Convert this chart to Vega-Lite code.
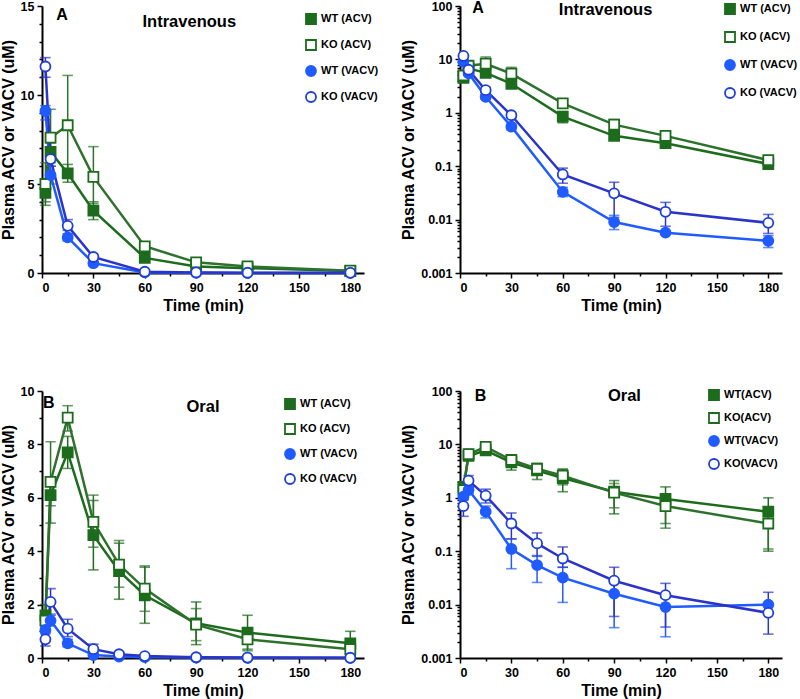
{
"$schema": "https://vega.github.io/schema/vega-lite/v6.json",
"padding": {"left": 0, "top": 0, "right": 5, "bottom": 5},
"config": {
 "view": {"stroke": null},
 "font": "Liberation Sans",
 "axis": {"grid": false, "domainColor": "black", "domainWidth": 2, "tickColor": "black", "tickWidth": 1.5, "tickSize": 5, "labelFont": "Liberation Sans", "labelFontWeight": "bold", "labelFontSize": 12.5, "labelColor": "black", "titleFont": "Liberation Sans", "titleFontWeight": "bold", "titleFontSize": 16, "titleColor": "black", "labelPadding": 3, "titlePadding": 4},
 "legend": {"labelFont": "Liberation Sans", "labelFontWeight": "bold", "labelFontSize": 11, "labelColor": "black", "symbolSize": 100, "symbolStrokeWidth": 1.8, "labelOffset": 4, "padding": 0}
},
"datasets": {
 "iv": [
  {"t": 2, "s": "WT (ACV)", "v": 4.5, "lo": 3.8, "hi": 5.2},
  {"t": 5, "s": "WT (ACV)", "v": 6.8, "lo": 6.2, "hi": 7.3},
  {"t": 15, "s": "WT (ACV)", "v": 5.6, "lo": 5.1, "hi": 6.1},
  {"t": 30, "s": "WT (ACV)", "v": 3.5, "lo": 3.0, "hi": 4.0},
  {"t": 60, "s": "WT (ACV)", "v": 0.85, "lo": 0.65, "hi": 1.05},
  {"t": 90, "s": "WT (ACV)", "v": 0.37, "lo": 0.32, "hi": 0.42},
  {"t": 120, "s": "WT (ACV)", "v": 0.27, "lo": 0.23, "hi": 0.31},
  {"t": 180, "s": "WT (ACV)", "v": 0.11, "lo": 0.1, "hi": 0.12},
  {"t": 2, "s": "KO (ACV)", "v": 5.0, "lo": 4.0, "hi": 6.2},
  {"t": 5, "s": "KO (ACV)", "v": 7.6, "lo": 6.9, "hi": 9.2},
  {"t": 15, "s": "KO (ACV)", "v": 8.3, "lo": 5.4, "hi": 11.1},
  {"t": 30, "s": "KO (ACV)", "v": 5.4, "lo": 3.9, "hi": 7.1},
  {"t": 60, "s": "KO (ACV)", "v": 1.5, "lo": 1.35, "hi": 1.65},
  {"t": 90, "s": "KO (ACV)", "v": 0.6, "lo": 0.48, "hi": 0.75},
  {"t": 120, "s": "KO (ACV)", "v": 0.37, "lo": 0.33, "hi": 0.42},
  {"t": 180, "s": "KO (ACV)", "v": 0.13, "lo": 0.12, "hi": 0.14},
  {"t": 2, "s": "WT (VACV)", "v": 9.1, "lo": 8.6, "hi": 9.4},
  {"t": 5, "s": "WT (VACV)", "v": 5.5, "lo": 5.0, "hi": 6.0},
  {"t": 15, "s": "WT (VACV)", "v": 2.0, "lo": 1.8, "hi": 2.2},
  {"t": 30, "s": "WT (VACV)", "v": 0.55, "lo": 0.48, "hi": 0.62},
  {"t": 60, "s": "WT (VACV)", "v": 0.033, "lo": 0.027, "hi": 0.04},
  {"t": 90, "s": "WT (VACV)", "v": 0.009, "lo": 0.0065, "hi": 0.012},
  {"t": 120, "s": "WT (VACV)", "v": 0.0057, "lo": null, "hi": null},
  {"t": 180, "s": "WT (VACV)", "v": 0.004, "lo": 0.003, "hi": 0.005},
  {"t": 2, "s": "KO (VACV)", "v": 11.6, "lo": 11.0, "hi": 12.1},
  {"t": 5, "s": "KO (VACV)", "v": 6.4, "lo": 6.0, "hi": 6.8},
  {"t": 15, "s": "KO (VACV)", "v": 2.65, "lo": 2.4, "hi": 3.0},
  {"t": 30, "s": "KO (VACV)", "v": 0.9, "lo": 0.82, "hi": 0.98},
  {"t": 60, "s": "KO (VACV)", "v": 0.07, "lo": 0.048, "hi": 0.092},
  {"t": 90, "s": "KO (VACV)", "v": 0.031, "lo": 0.011, "hi": 0.05},
  {"t": 120, "s": "KO (VACV)", "v": 0.014, "lo": 0.0075, "hi": 0.021},
  {"t": 180, "s": "KO (VACV)", "v": 0.0087, "lo": 0.0055, "hi": 0.0125}
 ],
 "oral": [
  {"t": 2, "s": "WT(ACV)", "v": 1.6, "lo": 1.2, "hi": 2.0},
  {"t": 5, "s": "WT(ACV)", "v": 6.1, "lo": 5.7, "hi": 6.6},
  {"t": 15, "s": "WT(ACV)", "v": 7.7, "lo": 7.1, "hi": 8.3},
  {"t": 30, "s": "WT(ACV)", "v": 4.6, "lo": 3.3, "hi": 5.9},
  {"t": 45, "s": "WT(ACV)", "v": 3.25, "lo": 2.2, "hi": 4.3},
  {"t": 60, "s": "WT(ACV)", "v": 2.35, "lo": 1.3, "hi": 3.4},
  {"t": 90, "s": "WT(ACV)", "v": 1.3, "lo": 0.5, "hi": 2.1},
  {"t": 120, "s": "WT(ACV)", "v": 0.95, "lo": 0.33, "hi": 1.6},
  {"t": 180, "s": "WT(ACV)", "v": 0.55, "lo": 0.1, "hi": 1.0},
  {"t": 2, "s": "KO(ACV)", "v": 1.4, "lo": null, "hi": null},
  {"t": 5, "s": "KO(ACV)", "v": 6.6, "lo": 5.05, "hi": 8.1},
  {"t": 15, "s": "KO(ACV)", "v": 9.0, "lo": 8.5, "hi": 9.45},
  {"t": 30, "s": "KO(ACV)", "v": 5.1, "lo": 4.15, "hi": 6.1},
  {"t": 45, "s": "KO(ACV)", "v": 3.5, "lo": 2.65, "hi": 4.4},
  {"t": 60, "s": "KO(ACV)", "v": 2.6, "lo": 1.75, "hi": 3.45},
  {"t": 90, "s": "KO(ACV)", "v": 1.25, "lo": 0.65, "hi": 1.85},
  {"t": 120, "s": "KO(ACV)", "v": 0.7, "lo": 0.27, "hi": 1.05},
  {"t": 180, "s": "KO(ACV)", "v": 0.33, "lo": 0.11, "hi": 0.55},
  {"t": 2, "s": "WT(VACV)", "v": 1.05, "lo": 0.9, "hi": 1.2},
  {"t": 5, "s": "WT(VACV)", "v": 1.4, "lo": 1.2, "hi": 1.65},
  {"t": 15, "s": "WT(VACV)", "v": 0.55, "lo": 0.42, "hi": 0.7},
  {"t": 30, "s": "WT(VACV)", "v": 0.11, "lo": 0.047, "hi": 0.17},
  {"t": 45, "s": "WT(VACV)", "v": 0.055, "lo": 0.026, "hi": 0.083},
  {"t": 60, "s": "WT(VACV)", "v": 0.032, "lo": 0.011, "hi": 0.05},
  {"t": 90, "s": "WT(VACV)", "v": 0.016, "lo": 0.0037, "hi": 0.028},
  {"t": 120, "s": "WT(VACV)", "v": 0.009, "lo": 0.0025, "hi": 0.014},
  {"t": 180, "s": "WT(VACV)", "v": 0.01, "lo": null, "hi": null},
  {"t": 2, "s": "KO(VACV)", "v": 0.7, "lo": 0.45, "hi": 0.95},
  {"t": 5, "s": "KO(VACV)", "v": 2.1, "lo": 1.6, "hi": 2.6},
  {"t": 15, "s": "KO(VACV)", "v": 1.1, "lo": 0.8, "hi": 1.45},
  {"t": 30, "s": "KO(VACV)", "v": 0.33, "lo": 0.17, "hi": 0.52},
  {"t": 45, "s": "KO(VACV)", "v": 0.14, "lo": 0.08, "hi": 0.22},
  {"t": 60, "s": "KO(VACV)", "v": 0.073, "lo": 0.05, "hi": 0.12},
  {"t": 90, "s": "KO(VACV)", "v": 0.028, "lo": 0.006, "hi": 0.05},
  {"t": 120, "s": "KO(VACV)", "v": 0.015, "lo": 0.0038, "hi": 0.025},
  {"t": 180, "s": "KO(VACV)", "v": 0.007, "lo": 0.0028, "hi": 0.017}
 ]
},
"columns": 2,
"bounds": "flush",
"spacing": {"row": 118, "column": 96},
"resolve": {"scale": {"color": "independent", "fill": "independent", "shape": "independent", "stroke": "independent"}, "legend": {"color": "independent", "fill": "independent", "shape": "independent", "stroke": "independent"}},
"concat": [
 {
  "width": 322, "height": 267,
  "data": {"name": "iv"},
  "encoding": {
   "x": {"field": "t", "type": "quantitative", "scale": {"domain": [0, 188], "nice": false}, "axis": {"title": "Time (min)", "values": [0,15,30,45,60,75,90,105,120,135,150,165,180], "labelExpr": "datum.value % 30 == 0 ? datum.label : ''", "tickSize": {"condition": {"test": "datum.value % 30 == 0", "value": 5}, "value": 3}}}
  },
  "layer": [
   {"mark": {"type": "rule", "strokeWidth": 1.5}, "encoding": {"y": {"field": "lo", "type": "quantitative", "scale": {"domain": [0, 15], "nice": false}, "axis": {"title": "Plasma ACV or VACV (uM)", "values": [0,1,2,3,4,5,6,7,8,9,10,11,12,13,14,15], "labelExpr": "datum.value % 5 == 0 ? datum.label : ''", "tickSize": {"condition": {"test": "datum.value % 5 == 0", "value": 5}, "value": 3}}}, "y2": {"field": "hi"}, "stroke": {"field": "s", "type": "nominal", "scale": {"domain": ["KO (VACV)","WT (VACV)","KO (ACV)","WT (ACV)"], "range": ["#2b34c9","#1f5bff","#2d712d","#1d6b1d"]}, "legend": null}}},
   {"mark": {"type": "tick", "orient": "horizontal", "filled": false, "size": 9, "thickness": 0.1, "strokeWidth": 1.5}, "encoding": {"y": {"field": "hi", "type": "quantitative", "scale": {"domain": [0, 15], "nice": false}, "axis": {"title": "Plasma ACV or VACV (uM)", "values": [0,1,2,3,4,5,6,7,8,9,10,11,12,13,14,15], "labelExpr": "datum.value % 5 == 0 ? datum.label : ''", "tickSize": {"condition": {"test": "datum.value % 5 == 0", "value": 5}, "value": 3}}}, "stroke": {"field": "s", "type": "nominal", "scale": {"domain": ["KO (VACV)","WT (VACV)","KO (ACV)","WT (ACV)"], "range": ["#2b34c9","#1f5bff","#2d712d","#1d6b1d"]}, "legend": null}}},
   {"mark": {"type": "tick", "orient": "horizontal", "filled": false, "size": 9, "thickness": 0.1, "strokeWidth": 1.5}, "encoding": {"y": {"field": "lo", "type": "quantitative", "scale": {"domain": [0, 15], "nice": false}, "axis": {"title": "Plasma ACV or VACV (uM)", "values": [0,1,2,3,4,5,6,7,8,9,10,11,12,13,14,15], "labelExpr": "datum.value % 5 == 0 ? datum.label : ''", "tickSize": {"condition": {"test": "datum.value % 5 == 0", "value": 5}, "value": 3}}}, "stroke": {"field": "s", "type": "nominal", "scale": {"domain": ["KO (VACV)","WT (VACV)","KO (ACV)","WT (ACV)"], "range": ["#2b34c9","#1f5bff","#2d712d","#1d6b1d"]}, "legend": null}}},
   {"mark": {"type": "line", "strokeWidth": 2.5}, "encoding": {"y": {"field": "v", "type": "quantitative", "scale": {"domain": [0, 15], "nice": false}, "axis": {"title": "Plasma ACV or VACV (uM)", "values": [0,1,2,3,4,5,6,7,8,9,10,11,12,13,14,15], "labelExpr": "datum.value % 5 == 0 ? datum.label : ''", "tickSize": {"condition": {"test": "datum.value % 5 == 0", "value": 5}, "value": 3}}}, "stroke": {"field": "s", "type": "nominal", "scale": {"domain": ["KO (VACV)","WT (VACV)","KO (ACV)","WT (ACV)"], "range": ["#2b34c9","#1f5bff","#2d712d","#1d6b1d"]}, "legend": null}}},
   {"mark": {"type": "point", "opacity": 1, "size": 100, "strokeWidth": 1.8},
    "encoding": {
     "y": {"field": "v", "type": "quantitative", "scale": {"domain": [0, 15], "nice": false}, "axis": {"title": "Plasma ACV or VACV (uM)", "values": [0,1,2,3,4,5,6,7,8,9,10,11,12,13,14,15], "labelExpr": "datum.value % 5 == 0 ? datum.label : ''", "tickSize": {"condition": {"test": "datum.value % 5 == 0", "value": 5}, "value": 3}}},
     "color": {"field": "s", "type": "nominal", "scale": {"domain": ["WT (ACV)","KO (ACV)","WT (VACV)","KO (VACV)"], "range": ["#1d6b1d","#1d6b1d","#1f5bff","#1f3fd9"]}, "legend": {"title": null, "orient": "none", "legendX": 263, "legendY": 7, "rowPadding": 8}},
     "fill": {"field": "s", "type": "nominal", "scale": {"domain": ["WT (ACV)","KO (ACV)","WT (VACV)","KO (VACV)"], "range": ["#1d6b1d","white","#1f5bff","white"]}, "legend": {"title": null, "orient": "none", "legendX": 263, "legendY": 7, "rowPadding": 8}},
     "shape": {"field": "s", "type": "nominal", "scale": {"domain": ["WT (ACV)","KO (ACV)","WT (VACV)","KO (VACV)"], "range": ["square","square","circle","circle"]}, "legend": {"title": null, "orient": "none", "legendX": 263, "legendY": 7, "rowPadding": 8}}
    }},
   {"transform": [{"filter": "datum.t == 2 && datum.s == 'WT (ACV)'"}], "mark": {"type": "text", "fontSize": 16, "fontWeight": "bold", "baseline": "middle", "align": "center", "color": "black"},
    "encoding": {"x": {"datum": 11.7, "type": "quantitative"}, "y": {"datum": 14.5, "type": "quantitative", "scale": {"domain": [0, 15], "nice": false}, "axis": {"title": "Plasma ACV or VACV (uM)", "values": [0,1,2,3,4,5,6,7,8,9,10,11,12,13,14,15], "labelExpr": "datum.value % 5 == 0 ? datum.label : ''", "tickSize": {"condition": {"test": "datum.value % 5 == 0", "value": 5}, "value": 3}}}, "text": {"value": "A"}}},
   {"transform": [{"filter": "datum.t == 2 && datum.s == 'WT (ACV)'"}], "mark": {"type": "text", "fontSize": 16.5, "fontWeight": "bold", "baseline": "middle", "align": "center", "color": "black"},
    "encoding": {"x": {"datum": 86, "type": "quantitative"}, "y": {"datum": 14.1, "type": "quantitative", "scale": {"domain": [0, 15], "nice": false}, "axis": {"title": "Plasma ACV or VACV (uM)", "values": [0,1,2,3,4,5,6,7,8,9,10,11,12,13,14,15], "labelExpr": "datum.value % 5 == 0 ? datum.label : ''", "tickSize": {"condition": {"test": "datum.value % 5 == 0", "value": 5}, "value": 3}}}, "text": {"value": "Intravenous"}}}
  ]
 },
 {
  "width": 322, "height": 267,
  "data": {"name": "iv"},
  "encoding": {
   "x": {"field": "t", "type": "quantitative", "scale": {"domain": [0, 188], "nice": false}, "axis": {"title": "Time (min)", "values": [0,15,30,45,60,75,90,105,120,135,150,165,180], "labelExpr": "datum.value % 30 == 0 ? datum.label : ''", "tickSize": {"condition": {"test": "datum.value % 30 == 0", "value": 5}, "value": 3}}}
  },
  "layer": [
   {"mark": {"type": "rule", "strokeWidth": 1.5}, "encoding": {"y": {"field": "lo", "type": "quantitative", "scale": {"type": "log", "domain": [0.001, 100], "nice": false}, "axis": {"title": "Plasma ACV or VACV (uM)", "format": "~g", "values": [0.001,0.002,0.003,0.004,0.005,0.006,0.007,0.008,0.009,0.01,0.02,0.03,0.04,0.05,0.06,0.07,0.08,0.09,0.1,0.2,0.3,0.4,0.5,0.6,0.7,0.8,0.9,1,2,3,4,5,6,7,8,9,10,20,30,40,50,60,70,80,90,100], "labelExpr": "abs(log(datum.value)/LN10 - round(log(datum.value)/LN10)) < 0.001 ? datum.label : ''", "tickSize": {"condition": {"test": "abs(log(datum.value)/LN10 - round(log(datum.value)/LN10)) < 0.001", "value": 5}, "value": 3}}}, "y2": {"field": "hi"}, "stroke": {"field": "s", "type": "nominal", "scale": {"domain": ["KO (VACV)","WT (VACV)","KO (ACV)","WT (ACV)"], "range": ["#2b34c9","#1f5bff","#2d712d","#1d6b1d"]}, "legend": null}}},
   {"mark": {"type": "tick", "orient": "horizontal", "filled": false, "size": 9, "thickness": 0.1, "strokeWidth": 1.5}, "encoding": {"y": {"field": "hi", "type": "quantitative", "scale": {"type": "log", "domain": [0.001, 100], "nice": false}, "axis": {"title": "Plasma ACV or VACV (uM)", "format": "~g", "values": [0.001,0.002,0.003,0.004,0.005,0.006,0.007,0.008,0.009,0.01,0.02,0.03,0.04,0.05,0.06,0.07,0.08,0.09,0.1,0.2,0.3,0.4,0.5,0.6,0.7,0.8,0.9,1,2,3,4,5,6,7,8,9,10,20,30,40,50,60,70,80,90,100], "labelExpr": "abs(log(datum.value)/LN10 - round(log(datum.value)/LN10)) < 0.001 ? datum.label : ''", "tickSize": {"condition": {"test": "abs(log(datum.value)/LN10 - round(log(datum.value)/LN10)) < 0.001", "value": 5}, "value": 3}}}, "stroke": {"field": "s", "type": "nominal", "scale": {"domain": ["KO (VACV)","WT (VACV)","KO (ACV)","WT (ACV)"], "range": ["#2b34c9","#1f5bff","#2d712d","#1d6b1d"]}, "legend": null}}},
   {"mark": {"type": "tick", "orient": "horizontal", "filled": false, "size": 9, "thickness": 0.1, "strokeWidth": 1.5}, "encoding": {"y": {"field": "lo", "type": "quantitative", "scale": {"type": "log", "domain": [0.001, 100], "nice": false}, "axis": {"title": "Plasma ACV or VACV (uM)", "format": "~g", "values": [0.001,0.002,0.003,0.004,0.005,0.006,0.007,0.008,0.009,0.01,0.02,0.03,0.04,0.05,0.06,0.07,0.08,0.09,0.1,0.2,0.3,0.4,0.5,0.6,0.7,0.8,0.9,1,2,3,4,5,6,7,8,9,10,20,30,40,50,60,70,80,90,100], "labelExpr": "abs(log(datum.value)/LN10 - round(log(datum.value)/LN10)) < 0.001 ? datum.label : ''", "tickSize": {"condition": {"test": "abs(log(datum.value)/LN10 - round(log(datum.value)/LN10)) < 0.001", "value": 5}, "value": 3}}}, "stroke": {"field": "s", "type": "nominal", "scale": {"domain": ["KO (VACV)","WT (VACV)","KO (ACV)","WT (ACV)"], "range": ["#2b34c9","#1f5bff","#2d712d","#1d6b1d"]}, "legend": null}}},
   {"mark": {"type": "line", "strokeWidth": 2.5}, "encoding": {"y": {"field": "v", "type": "quantitative", "scale": {"type": "log", "domain": [0.001, 100], "nice": false}, "axis": {"title": "Plasma ACV or VACV (uM)", "format": "~g", "values": [0.001,0.002,0.003,0.004,0.005,0.006,0.007,0.008,0.009,0.01,0.02,0.03,0.04,0.05,0.06,0.07,0.08,0.09,0.1,0.2,0.3,0.4,0.5,0.6,0.7,0.8,0.9,1,2,3,4,5,6,7,8,9,10,20,30,40,50,60,70,80,90,100], "labelExpr": "abs(log(datum.value)/LN10 - round(log(datum.value)/LN10)) < 0.001 ? datum.label : ''", "tickSize": {"condition": {"test": "abs(log(datum.value)/LN10 - round(log(datum.value)/LN10)) < 0.001", "value": 5}, "value": 3}}}, "stroke": {"field": "s", "type": "nominal", "scale": {"domain": ["KO (VACV)","WT (VACV)","KO (ACV)","WT (ACV)"], "range": ["#2b34c9","#1f5bff","#2d712d","#1d6b1d"]}, "legend": null}}},
   {"mark": {"type": "point", "opacity": 1, "size": 100, "strokeWidth": 1.8},
    "encoding": {
     "y": {"field": "v", "type": "quantitative", "scale": {"type": "log", "domain": [0.001, 100], "nice": false}, "axis": {"title": "Plasma ACV or VACV (uM)", "format": "~g", "values": [0.001,0.002,0.003,0.004,0.005,0.006,0.007,0.008,0.009,0.01,0.02,0.03,0.04,0.05,0.06,0.07,0.08,0.09,0.1,0.2,0.3,0.4,0.5,0.6,0.7,0.8,0.9,1,2,3,4,5,6,7,8,9,10,20,30,40,50,60,70,80,90,100], "labelExpr": "abs(log(datum.value)/LN10 - round(log(datum.value)/LN10)) < 0.001 ? datum.label : ''", "tickSize": {"condition": {"test": "abs(log(datum.value)/LN10 - round(log(datum.value)/LN10)) < 0.001", "value": 5}, "value": 3}}},
     "color": {"field": "s", "type": "nominal", "scale": {"domain": ["WT (ACV)","KO (ACV)","WT (VACV)","KO (VACV)"], "range": ["#1d6b1d","#1d6b1d","#1f5bff","#1f3fd9"]}, "legend": {"title": null, "orient": "none", "legendX": 264, "legendY": -3, "rowPadding": 10}},
     "fill": {"field": "s", "type": "nominal", "scale": {"domain": ["WT (ACV)","KO (ACV)","WT (VACV)","KO (VACV)"], "range": ["#1d6b1d","white","#1f5bff","white"]}, "legend": {"title": null, "orient": "none", "legendX": 264, "legendY": -3, "rowPadding": 10}},
     "shape": {"field": "s", "type": "nominal", "scale": {"domain": ["WT (ACV)","KO (ACV)","WT (VACV)","KO (VACV)"], "range": ["square","square","circle","circle"]}, "legend": {"title": null, "orient": "none", "legendX": 264, "legendY": -3, "rowPadding": 10}}
    }},
   {"transform": [{"filter": "datum.t == 2 && datum.s == 'WT (ACV)'"}], "mark": {"type": "text", "fontSize": 16, "fontWeight": "bold", "baseline": "middle", "align": "center", "color": "black"},
    "encoding": {"x": {"datum": 10.5, "type": "quantitative"}, "y": {"datum": 91, "type": "quantitative", "scale": {"type": "log", "domain": [0.001, 100], "nice": false}, "axis": {"title": "Plasma ACV or VACV (uM)", "format": "~g", "values": [0.001,0.002,0.003,0.004,0.005,0.006,0.007,0.008,0.009,0.01,0.02,0.03,0.04,0.05,0.06,0.07,0.08,0.09,0.1,0.2,0.3,0.4,0.5,0.6,0.7,0.8,0.9,1,2,3,4,5,6,7,8,9,10,20,30,40,50,60,70,80,90,100], "labelExpr": "abs(log(datum.value)/LN10 - round(log(datum.value)/LN10)) < 0.001 ? datum.label : ''", "tickSize": {"condition": {"test": "abs(log(datum.value)/LN10 - round(log(datum.value)/LN10)) < 0.001", "value": 5}, "value": 3}}}, "text": {"value": "A"}}},
   {"transform": [{"filter": "datum.t == 2 && datum.s == 'WT (ACV)'"}], "mark": {"type": "text", "fontSize": 16.5, "fontWeight": "bold", "baseline": "middle", "align": "center", "color": "black"},
    "encoding": {"x": {"datum": 85, "type": "quantitative"}, "y": {"datum": 85, "type": "quantitative", "scale": {"type": "log", "domain": [0.001, 100], "nice": false}, "axis": {"title": "Plasma ACV or VACV (uM)", "format": "~g", "values": [0.001,0.002,0.003,0.004,0.005,0.006,0.007,0.008,0.009,0.01,0.02,0.03,0.04,0.05,0.06,0.07,0.08,0.09,0.1,0.2,0.3,0.4,0.5,0.6,0.7,0.8,0.9,1,2,3,4,5,6,7,8,9,10,20,30,40,50,60,70,80,90,100], "labelExpr": "abs(log(datum.value)/LN10 - round(log(datum.value)/LN10)) < 0.001 ? datum.label : ''", "tickSize": {"condition": {"test": "abs(log(datum.value)/LN10 - round(log(datum.value)/LN10)) < 0.001", "value": 5}, "value": 3}}}, "text": {"value": "Intravenous"}}}
  ]
 },
 {
  "width": 322, "height": 267,
  "data": {"name": "oral"},
  "encoding": {
   "x": {"field": "t", "type": "quantitative", "scale": {"domain": [0, 188], "nice": false}, "axis": {"title": "Time (min)", "values": [0,15,30,45,60,75,90,105,120,135,150,165,180], "labelExpr": "datum.value % 30 == 0 ? datum.label : ''", "tickSize": {"condition": {"test": "datum.value % 30 == 0", "value": 5}, "value": 3}}}
  },
  "layer": [
   {"mark": {"type": "rule", "strokeWidth": 1.5}, "encoding": {"y": {"field": "lo", "type": "quantitative", "scale": {"domain": [0, 10], "nice": false}, "axis": {"title": "Plasma ACV or VACV (uM)", "values": [0,1,2,3,4,5,6,7,8,9,10], "labelExpr": "datum.value % 2 == 0 ? datum.label : ''", "tickSize": {"condition": {"test": "datum.value % 2 == 0", "value": 5}, "value": 3}}}, "y2": {"field": "hi"}, "stroke": {"field": "s", "type": "nominal", "scale": {"domain": ["KO(VACV)","WT(VACV)","KO(ACV)","WT(ACV)"], "range": ["#2b34c9","#1f5bff","#2d712d","#1d6b1d"]}, "legend": null}}},
   {"mark": {"type": "tick", "orient": "horizontal", "filled": false, "size": 9, "thickness": 0.1, "strokeWidth": 1.5}, "encoding": {"y": {"field": "hi", "type": "quantitative", "scale": {"domain": [0, 10], "nice": false}, "axis": {"title": "Plasma ACV or VACV (uM)", "values": [0,1,2,3,4,5,6,7,8,9,10], "labelExpr": "datum.value % 2 == 0 ? datum.label : ''", "tickSize": {"condition": {"test": "datum.value % 2 == 0", "value": 5}, "value": 3}}}, "stroke": {"field": "s", "type": "nominal", "scale": {"domain": ["KO(VACV)","WT(VACV)","KO(ACV)","WT(ACV)"], "range": ["#2b34c9","#1f5bff","#2d712d","#1d6b1d"]}, "legend": null}}},
   {"mark": {"type": "tick", "orient": "horizontal", "filled": false, "size": 9, "thickness": 0.1, "strokeWidth": 1.5}, "encoding": {"y": {"field": "lo", "type": "quantitative", "scale": {"domain": [0, 10], "nice": false}, "axis": {"title": "Plasma ACV or VACV (uM)", "values": [0,1,2,3,4,5,6,7,8,9,10], "labelExpr": "datum.value % 2 == 0 ? datum.label : ''", "tickSize": {"condition": {"test": "datum.value % 2 == 0", "value": 5}, "value": 3}}}, "stroke": {"field": "s", "type": "nominal", "scale": {"domain": ["KO(VACV)","WT(VACV)","KO(ACV)","WT(ACV)"], "range": ["#2b34c9","#1f5bff","#2d712d","#1d6b1d"]}, "legend": null}}},
   {"mark": {"type": "line", "strokeWidth": 2.5}, "encoding": {"y": {"field": "v", "type": "quantitative", "scale": {"domain": [0, 10], "nice": false}, "axis": {"title": "Plasma ACV or VACV (uM)", "values": [0,1,2,3,4,5,6,7,8,9,10], "labelExpr": "datum.value % 2 == 0 ? datum.label : ''", "tickSize": {"condition": {"test": "datum.value % 2 == 0", "value": 5}, "value": 3}}}, "stroke": {"field": "s", "type": "nominal", "scale": {"domain": ["KO(VACV)","WT(VACV)","KO(ACV)","WT(ACV)"], "range": ["#2b34c9","#1f5bff","#2d712d","#1d6b1d"]}, "legend": null}}},
   {"mark": {"type": "point", "opacity": 1, "size": 100, "strokeWidth": 1.8},
    "encoding": {
     "y": {"field": "v", "type": "quantitative", "scale": {"domain": [0, 10], "nice": false}, "axis": {"title": "Plasma ACV or VACV (uM)", "values": [0,1,2,3,4,5,6,7,8,9,10], "labelExpr": "datum.value % 2 == 0 ? datum.label : ''", "tickSize": {"condition": {"test": "datum.value % 2 == 0", "value": 5}, "value": 3}}},
     "color": {"field": "s", "type": "nominal", "scale": {"domain": ["WT(ACV)","KO(ACV)","WT(VACV)","KO(VACV)"], "range": ["#1d6b1d","#1d6b1d","#1f5bff","#1f3fd9"]}, "legend": {"title": null, "orient": "none", "legendX": 242, "legendY": 7, "rowPadding": 7, "labelExpr": "replace(datum.label, '(', ' (')"}},
     "fill": {"field": "s", "type": "nominal", "scale": {"domain": ["WT(ACV)","KO(ACV)","WT(VACV)","KO(VACV)"], "range": ["#1d6b1d","white","#1f5bff","white"]}, "legend": {"title": null, "orient": "none", "legendX": 242, "legendY": 7, "rowPadding": 7, "labelExpr": "replace(datum.label, '(', ' (')"}},
     "shape": {"field": "s", "type": "nominal", "scale": {"domain": ["WT(ACV)","KO(ACV)","WT(VACV)","KO(VACV)"], "range": ["square","square","circle","circle"]}, "legend": {"title": null, "orient": "none", "legendX": 242, "legendY": 7, "rowPadding": 7, "labelExpr": "replace(datum.label, '(', ' (')"}}
    }},
   {"transform": [{"filter": "datum.t == 2 && datum.s == 'WT(ACV)'"}], "mark": {"type": "text", "fontSize": 16, "fontWeight": "bold", "baseline": "middle", "align": "center", "color": "black"},
    "encoding": {"x": {"datum": 4, "type": "quantitative"}, "y": {"datum": 9.55, "type": "quantitative", "scale": {"domain": [0, 10], "nice": false}, "axis": {"title": "Plasma ACV or VACV (uM)", "values": [0,1,2,3,4,5,6,7,8,9,10], "labelExpr": "datum.value % 2 == 0 ? datum.label : ''", "tickSize": {"condition": {"test": "datum.value % 2 == 0", "value": 5}, "value": 3}}}, "text": {"value": "B"}}},
   {"transform": [{"filter": "datum.t == 2 && datum.s == 'WT(ACV)'"}], "mark": {"type": "text", "fontSize": 16.5, "fontWeight": "bold", "baseline": "middle", "align": "center", "color": "black"},
    "encoding": {"x": {"datum": 94, "type": "quantitative"}, "y": {"datum": 9.4, "type": "quantitative", "scale": {"domain": [0, 10], "nice": false}, "axis": {"title": "Plasma ACV or VACV (uM)", "values": [0,1,2,3,4,5,6,7,8,9,10], "labelExpr": "datum.value % 2 == 0 ? datum.label : ''", "tickSize": {"condition": {"test": "datum.value % 2 == 0", "value": 5}, "value": 3}}}, "text": {"value": "Oral"}}}
  ]
 },
 {
  "width": 322, "height": 267,
  "data": {"name": "oral"},
  "encoding": {
   "x": {"field": "t", "type": "quantitative", "scale": {"domain": [0, 188], "nice": false}, "axis": {"title": "Time (min)", "values": [0,15,30,45,60,75,90,105,120,135,150,165,180], "labelExpr": "datum.value % 30 == 0 ? datum.label : ''", "tickSize": {"condition": {"test": "datum.value % 30 == 0", "value": 5}, "value": 3}}}
  },
  "layer": [
   {"mark": {"type": "rule", "strokeWidth": 1.5}, "encoding": {"y": {"field": "lo", "type": "quantitative", "scale": {"type": "log", "domain": [0.001, 100], "nice": false}, "axis": {"title": "Plasma ACV or VACV (uM)", "format": "~g", "values": [0.001,0.002,0.003,0.004,0.005,0.006,0.007,0.008,0.009,0.01,0.02,0.03,0.04,0.05,0.06,0.07,0.08,0.09,0.1,0.2,0.3,0.4,0.5,0.6,0.7,0.8,0.9,1,2,3,4,5,6,7,8,9,10,20,30,40,50,60,70,80,90,100], "labelExpr": "abs(log(datum.value)/LN10 - round(log(datum.value)/LN10)) < 0.001 ? datum.label : ''", "tickSize": {"condition": {"test": "abs(log(datum.value)/LN10 - round(log(datum.value)/LN10)) < 0.001", "value": 5}, "value": 3}}}, "y2": {"field": "hi"}, "stroke": {"field": "s", "type": "nominal", "scale": {"domain": ["KO(VACV)","WT(VACV)","KO(ACV)","WT(ACV)"], "range": ["#2b34c9","#1f5bff","#2d712d","#1d6b1d"]}, "legend": null}}},
   {"mark": {"type": "tick", "orient": "horizontal", "filled": false, "size": 9, "thickness": 0.1, "strokeWidth": 1.5}, "encoding": {"y": {"field": "hi", "type": "quantitative", "scale": {"type": "log", "domain": [0.001, 100], "nice": false}, "axis": {"title": "Plasma ACV or VACV (uM)", "format": "~g", "values": [0.001,0.002,0.003,0.004,0.005,0.006,0.007,0.008,0.009,0.01,0.02,0.03,0.04,0.05,0.06,0.07,0.08,0.09,0.1,0.2,0.3,0.4,0.5,0.6,0.7,0.8,0.9,1,2,3,4,5,6,7,8,9,10,20,30,40,50,60,70,80,90,100], "labelExpr": "abs(log(datum.value)/LN10 - round(log(datum.value)/LN10)) < 0.001 ? datum.label : ''", "tickSize": {"condition": {"test": "abs(log(datum.value)/LN10 - round(log(datum.value)/LN10)) < 0.001", "value": 5}, "value": 3}}}, "stroke": {"field": "s", "type": "nominal", "scale": {"domain": ["KO(VACV)","WT(VACV)","KO(ACV)","WT(ACV)"], "range": ["#2b34c9","#1f5bff","#2d712d","#1d6b1d"]}, "legend": null}}},
   {"mark": {"type": "tick", "orient": "horizontal", "filled": false, "size": 9, "thickness": 0.1, "strokeWidth": 1.5}, "encoding": {"y": {"field": "lo", "type": "quantitative", "scale": {"type": "log", "domain": [0.001, 100], "nice": false}, "axis": {"title": "Plasma ACV or VACV (uM)", "format": "~g", "values": [0.001,0.002,0.003,0.004,0.005,0.006,0.007,0.008,0.009,0.01,0.02,0.03,0.04,0.05,0.06,0.07,0.08,0.09,0.1,0.2,0.3,0.4,0.5,0.6,0.7,0.8,0.9,1,2,3,4,5,6,7,8,9,10,20,30,40,50,60,70,80,90,100], "labelExpr": "abs(log(datum.value)/LN10 - round(log(datum.value)/LN10)) < 0.001 ? datum.label : ''", "tickSize": {"condition": {"test": "abs(log(datum.value)/LN10 - round(log(datum.value)/LN10)) < 0.001", "value": 5}, "value": 3}}}, "stroke": {"field": "s", "type": "nominal", "scale": {"domain": ["KO(VACV)","WT(VACV)","KO(ACV)","WT(ACV)"], "range": ["#2b34c9","#1f5bff","#2d712d","#1d6b1d"]}, "legend": null}}},
   {"mark": {"type": "line", "strokeWidth": 2.5}, "encoding": {"y": {"field": "v", "type": "quantitative", "scale": {"type": "log", "domain": [0.001, 100], "nice": false}, "axis": {"title": "Plasma ACV or VACV (uM)", "format": "~g", "values": [0.001,0.002,0.003,0.004,0.005,0.006,0.007,0.008,0.009,0.01,0.02,0.03,0.04,0.05,0.06,0.07,0.08,0.09,0.1,0.2,0.3,0.4,0.5,0.6,0.7,0.8,0.9,1,2,3,4,5,6,7,8,9,10,20,30,40,50,60,70,80,90,100], "labelExpr": "abs(log(datum.value)/LN10 - round(log(datum.value)/LN10)) < 0.001 ? datum.label : ''", "tickSize": {"condition": {"test": "abs(log(datum.value)/LN10 - round(log(datum.value)/LN10)) < 0.001", "value": 5}, "value": 3}}}, "stroke": {"field": "s", "type": "nominal", "scale": {"domain": ["KO(VACV)","WT(VACV)","KO(ACV)","WT(ACV)"], "range": ["#2b34c9","#1f5bff","#2d712d","#1d6b1d"]}, "legend": null}}},
   {"mark": {"type": "point", "opacity": 1, "size": 100, "strokeWidth": 1.8},
    "encoding": {
     "y": {"field": "v", "type": "quantitative", "scale": {"type": "log", "domain": [0.001, 100], "nice": false}, "axis": {"title": "Plasma ACV or VACV (uM)", "format": "~g", "values": [0.001,0.002,0.003,0.004,0.005,0.006,0.007,0.008,0.009,0.01,0.02,0.03,0.04,0.05,0.06,0.07,0.08,0.09,0.1,0.2,0.3,0.4,0.5,0.6,0.7,0.8,0.9,1,2,3,4,5,6,7,8,9,10,20,30,40,50,60,70,80,90,100], "labelExpr": "abs(log(datum.value)/LN10 - round(log(datum.value)/LN10)) < 0.001 ? datum.label : ''", "tickSize": {"condition": {"test": "abs(log(datum.value)/LN10 - round(log(datum.value)/LN10)) < 0.001", "value": 5}, "value": 3}}},
     "color": {"field": "s", "type": "nominal", "scale": {"domain": ["WT(ACV)","KO(ACV)","WT(VACV)","KO(VACV)"], "range": ["#1d6b1d","#1d6b1d","#1f5bff","#1f3fd9"]}, "legend": {"title": null, "orient": "none", "legendX": 248, "legendY": -2, "rowPadding": 5}},
     "fill": {"field": "s", "type": "nominal", "scale": {"domain": ["WT(ACV)","KO(ACV)","WT(VACV)","KO(VACV)"], "range": ["#1d6b1d","white","#1f5bff","white"]}, "legend": {"title": null, "orient": "none", "legendX": 248, "legendY": -2, "rowPadding": 5}},
     "shape": {"field": "s", "type": "nominal", "scale": {"domain": ["WT(ACV)","KO(ACV)","WT(VACV)","KO(VACV)"], "range": ["square","square","circle","circle"]}, "legend": {"title": null, "orient": "none", "legendX": 248, "legendY": -2, "rowPadding": 5}}
    }},
   {"transform": [{"filter": "datum.t == 2 && datum.s == 'WT(ACV)'"}], "mark": {"type": "text", "fontSize": 16, "fontWeight": "bold", "baseline": "middle", "align": "center", "color": "black"},
    "encoding": {"x": {"datum": 12, "type": "quantitative"}, "y": {"datum": 82, "type": "quantitative", "scale": {"type": "log", "domain": [0.001, 100], "nice": false}, "axis": {"title": "Plasma ACV or VACV (uM)", "format": "~g", "values": [0.001,0.002,0.003,0.004,0.005,0.006,0.007,0.008,0.009,0.01,0.02,0.03,0.04,0.05,0.06,0.07,0.08,0.09,0.1,0.2,0.3,0.4,0.5,0.6,0.7,0.8,0.9,1,2,3,4,5,6,7,8,9,10,20,30,40,50,60,70,80,90,100], "labelExpr": "abs(log(datum.value)/LN10 - round(log(datum.value)/LN10)) < 0.001 ? datum.label : ''", "tickSize": {"condition": {"test": "abs(log(datum.value)/LN10 - round(log(datum.value)/LN10)) < 0.001", "value": 5}, "value": 3}}}, "text": {"value": "B"}}},
   {"transform": [{"filter": "datum.t == 2 && datum.s == 'WT(ACV)'"}], "mark": {"type": "text", "fontSize": 16.5, "fontWeight": "bold", "baseline": "middle", "align": "center", "color": "black"},
    "encoding": {"x": {"datum": 96, "type": "quantitative"}, "y": {"datum": 82, "type": "quantitative", "scale": {"type": "log", "domain": [0.001, 100], "nice": false}, "axis": {"title": "Plasma ACV or VACV (uM)", "format": "~g", "values": [0.001,0.002,0.003,0.004,0.005,0.006,0.007,0.008,0.009,0.01,0.02,0.03,0.04,0.05,0.06,0.07,0.08,0.09,0.1,0.2,0.3,0.4,0.5,0.6,0.7,0.8,0.9,1,2,3,4,5,6,7,8,9,10,20,30,40,50,60,70,80,90,100], "labelExpr": "abs(log(datum.value)/LN10 - round(log(datum.value)/LN10)) < 0.001 ? datum.label : ''", "tickSize": {"condition": {"test": "abs(log(datum.value)/LN10 - round(log(datum.value)/LN10)) < 0.001", "value": 5}, "value": 3}}}, "text": {"value": "Oral"}}}
  ]
 }
]
}
